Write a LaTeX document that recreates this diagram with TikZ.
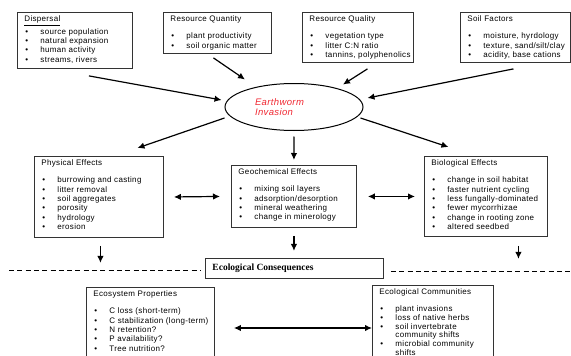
\documentclass[tikz,border=0pt]{standalone}
\usepackage{fontspec}
\setmainfont{Liberation Sans}[LetterSpace=4]
\newfontfamily\serifbold{Liberation Serif}
\usetikzlibrary{shapes.geometric, arrows.meta}
\definecolor{wormred}{RGB}{240,40,50}
\tikzstyle{arrow} = [line width=1.2pt,-{Latex[length=7pt,width=6.5pt]}]
\tikzstyle{dblarrow} = [line width=1.2pt,{Latex[length=7pt,width=6.5pt]}-{Latex[length=7pt,width=6.5pt]}]
\tikzstyle{effbox} = [draw=black!80, line width=0.9pt, anchor=north west, inner xsep=7pt, inner ysep=0pt, font=\fontsize{8}{9.3}\selectfont]
\tikzstyle{sepline} = [line width=0.6pt, dash pattern=on 5pt off 3.3pt]
\newcommand{\bl}[1]{\hspace*{1pt}\makebox[15pt][l]{\textbullet}\mbox{#1}}
\newcommand{\boxtext}[3]{\parbox[c][#2][t]{#1}{\raggedright\rule{0pt}{9.5pt}#3}}

\begin{document}
\begin{tikzpicture}[x=1pt,y=-1pt]
        \useasboundingbox (0,0) rectangle (571,356);

        %drivers
        \node at (17,12) [effbox] (disp) {\boxtext{101pt}{56pt}{\underline{Dispersal}\\[1.7pt]
            \bl{source population}\\ \bl{natural expansion}\\ \bl{human activity}\\ \bl{streams, rivers}}};
        \node at (163,12) [effbox] (rqn) {\boxtext{94pt}{41pt}{Resource Quantity\\[7.7pt]
            \bl{plant productivity}\\ \bl{soil organic matter}}};
        \node at (302,12) [effbox] (rql) {\boxtext{97pt}{50pt}{Resource Quality\\[7.7pt]
            \bl{vegetation type}\\ \bl{litter C:N ratio}\\ \bl{tannins, polyphenolics}}};
        \node at (460,12) [effbox] (soil) {\boxtext{96pt}{50pt}{Soil Factors\\[7.7pt]
            \bl{moisture, hyrdology}\\ \bl{texture, sand/silt/clay}\\ \bl{acidity, base cations}}};

        %invasion
        \node at (294,107) [ellipse, draw, line width=1pt, minimum width=138pt, minimum height=47pt, inner sep=0pt,
            text=wormred, font=\fontsize{9.5}{10}\selectfont\itshape] (worm) {\parbox{78pt}{\raggedright Earthworm\\Invasion}};

        %effects
        \node at (34,156) [effbox] (phys) {\boxtext{115pt}{81pt}{Physical Effects\\[7.7pt]
            \bl{burrowing and casting}\\ \bl{litter removal}\\ \bl{soil aggregates}\\ \bl{porosity}\\ \bl{hydrology}\\ \bl{erosion}}};
        \node at (231,165) [effbox] (geo) {\boxtext{111pt}{62pt}{Geochemical Effects\\[7.7pt]
            \bl{mixing soil layers}\\ \bl{adsorption/desorption}\\ \bl{mineral weathering}\\ \bl{change in minerology}}};
        \node at (424,156) [effbox] (bio) {\boxtext{109pt}{80pt}{Biological Effects\\[7.7pt]
            \bl{change in soil habitat}\\ \bl{faster nutrient cycling}\\ \bl{less fungally-dominated}\\ \bl{fewer mycorrhizae}\\
            \bl{change in rooting zone}\\ \bl{altered seedbed}}};

        %consequences
        \node at (205,258) [effbox] (cons) {\parbox[c][20pt][c]{164pt}{\serifbold\bfseries\fontsize{9.5}{10}\selectfont Ecological Consequences}};
        \node at (86,287) [effbox] (ecos) {\boxtext{114pt}{80pt}{Ecosystem Properties\\[7.7pt]
            \bl{C loss (short-term)}\\ \bl{C stabilization (long-term)}\\ \bl{N retention?}\\ \bl{P availability?}\\ \bl{Tree nutrition?}}};
        \node at (372,285) [effbox] (com) {\boxtext{107pt}{80pt}{\fontsize{8}{8.8}\selectfont Ecological Communities\\[7.7pt]
            \bl{plant invasions}\\ \bl{loss of native herbs}\\ \bl{soil invertebrate}\\ \hspace*{16pt}community shifts\\
            \bl{microbial community}\\ \hspace*{16pt}shifts}};
        \coordinate (dashL) at (9,270);
        \coordinate (dashR) at (571,271);

        %Arrows
        \draw [arrow] ([xshift=14pt,yshift=-7pt]disp.south) -- ([xshift=-3pt,yshift=7pt]worm.west);
        \draw [arrow] ([xshift=-4pt,yshift=-4pt]rqn.south) -- ([xshift=-49pt,yshift=3.5pt]worm.north);
        \draw [arrow] ([xshift=9.5pt,yshift=-6pt]rql.south) -- ([xshift=49pt,yshift=-1.5pt]worm.north);
        \draw [arrow] ([xshift=-2pt,yshift=-6pt]soil.south) -- ([xshift=4pt,yshift=9pt]worm.east);
        \draw [arrow] ([yshift=-11pt]worm.west) -- ([xshift=38.5pt,yshift=8pt]phys.north);
        \draw [arrow] ([xshift=-3pt,yshift=-11pt]worm.east) -- ([xshift=-37.5pt,yshift=9pt]bio.north);
        \draw [arrow] ([yshift=-5.5pt]worm.south) -- ([yshift=5pt]geo.north);
        \draw [dblarrow] ([xshift=10pt]phys.east) -- ([xshift=-11pt]geo.west);
        \draw [dblarrow] ([xshift=11pt]geo.east) -- ([xshift=-9pt]bio.west);
        \draw [arrow] ([xshift=1.5pt,yshift=-8pt]phys.south) -- ++(0,17);
        \draw [arrow] ([yshift=-8pt]geo.south) -- ++(0,15);
        \draw [arrow] ([xshift=32.5pt,yshift=-9pt]bio.south) -- ++(0,13);
        \draw [sepline] (dashL) -- ([xshift=-5pt]cons.west |- dashL);
        \draw [sepline] ([xshift=7pt]cons.east |- dashR) -- (dashR);
        \draw [dblarrow] ([xshift=19pt,yshift=-41pt]ecos.north east) -- ([yshift=-43pt]com.north west);

    \end{tikzpicture}
\end{document}
